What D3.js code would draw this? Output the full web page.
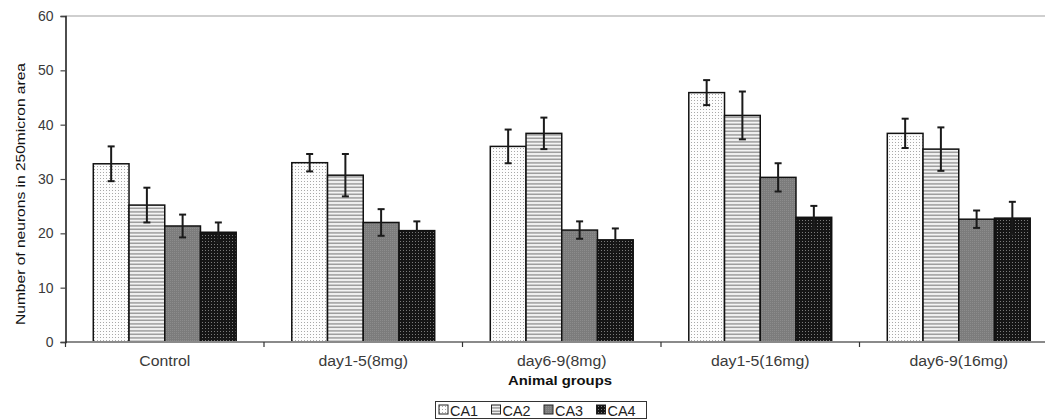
<!DOCTYPE html>
<html>
<head>
<meta charset="utf-8">
<script src="https://cdn.jsdelivr.net/npm/d3@7/dist/d3.min.js"></script>
<style>
  html, body { margin: 0; padding: 0; background: #fff; }
  svg { display: block; font-family: "Liberation Sans", Arial, sans-serif; }
</style>
</head>
<body>
<svg id="chart" width="1045" height="419"></svg>
<script>
const categories = ["Control", "day1-5(8mg)", "day6-9(8mg)", "day1-5(16mg)", "day6-9(16mg)"];
const seriesNames = ["CA1", "CA2", "CA3", "CA4"];
const ca1 = [32.8, 33.0, 36.0, 45.9, 38.4];
const ca1Err = [3.2, 1.6, 3.1, 2.3, 2.7];
const ca2 = [25.2, 30.7, 38.4, 41.7, 35.5];
const ca2Err = [3.2, 3.9, 2.9, 4.4, 4.0];
const ca3 = [21.35, 22.0, 20.6, 30.3, 22.6];
const ca3Err = [2.1, 2.45, 1.6, 2.6, 1.6];
const ca4 = [20.2, 20.5, 18.8, 22.95, 22.8];
const ca4Err = [1.8, 1.7, 2.1, 2.1, 3.0];
const yTicks = [0, 10, 20, 30, 40, 50, 60];
const yLabel = "Number of neurons in 250micron area";
const xLabel = "Animal groups";

const values = [ca1, ca2, ca3, ca4];
const errors = [ca1Err, ca2Err, ca3Err, ca4Err];

const svg = d3.select("#chart");
const defs = svg.append("defs");

// Patterns
const p1 = defs.append("pattern").attr("id", "pat0").attr("patternUnits", "userSpaceOnUse")
  .attr("width", 3).attr("height", 3);
p1.append("rect").attr("width", 3).attr("height", 3).attr("fill", "#fdfdfd");
p1.append("rect").attr("x", 1).attr("y", 1).attr("width", 1).attr("height", 1).attr("fill", "#a8a8a8");

const p2 = defs.append("pattern").attr("id", "pat1").attr("patternUnits", "userSpaceOnUse")
  .attr("width", 4).attr("height", 3.5);
p2.append("rect").attr("width", 4).attr("height", 3.5).attr("fill", "#f4f4f4");
p2.append("rect").attr("x", 0).attr("y", 1.2).attr("width", 4).attr("height", 1.3).attr("fill", "#8a8a8a");

const p3 = defs.append("pattern").attr("id", "pat2").attr("patternUnits", "userSpaceOnUse")
  .attr("width", 2).attr("height", 2);
p3.append("rect").attr("width", 2).attr("height", 2).attr("fill", "#7c7c7c");
p3.append("rect").attr("x", 0).attr("y", 0).attr("width", 1).attr("height", 1).attr("fill", "#8c8c8c");

const p4 = defs.append("pattern").attr("id", "pat3").attr("patternUnits", "userSpaceOnUse")
  .attr("width", 3).attr("height", 3);
p4.append("rect").attr("width", 3).attr("height", 3).attr("fill", "#151515");
p4.append("rect").attr("x", 1).attr("y", 1).attr("width", 1).attr("height", 1).attr("fill", "#7a7a7a");

// Scales
const plotLeft = 65.5, plotRight = 1058, plotTop = 16, plotBottom = 342;
const x0 = d3.scaleBand().domain(categories).range([plotLeft, plotRight])
  .paddingInner(0.28).paddingOuter(0.14);
const x1 = d3.scaleBand().domain(seriesNames).range([0, x0.bandwidth()]);
const y = d3.scaleLinear().domain([0, 60]).range([plotBottom, plotTop]);

// Top grid line at 60
svg.append("line")
  .attr("x1", plotLeft).attr("x2", plotRight)
  .attr("y1", y(60)).attr("y2", y(60))
  .attr("stroke", "#cfcfcf").attr("stroke-width", 2);

// Bars
const g = svg.append("g");
categories.forEach((c, ci) => {
  seriesNames.forEach((s, si) => {
    const v = values[si][ci];
    g.append("rect")
      .attr("x", x0(c) + x1(s))
      .attr("y", y(v))
      .attr("width", x1.bandwidth())
      .attr("height", y(0) - y(v))
      .attr("fill", `url(#pat${si})`)
      .attr("stroke", "#111").attr("stroke-width", 1.5);
  });
});

// Error bars
const eg = svg.append("g").attr("stroke", "#1a1a1a").attr("stroke-width", 2);
categories.forEach((c, ci) => {
  seriesNames.forEach((s, si) => {
    const v = values[si][ci], e = errors[si][ci];
    const cx = x0(c) + x1(s) + x1.bandwidth() / 2;
    eg.append("line").attr("x1", cx).attr("x2", cx).attr("y1", y(v + e)).attr("y2", y(v - e));
    eg.append("line").attr("x1", cx - 3.5).attr("x2", cx + 3.5).attr("y1", y(v + e)).attr("y2", y(v + e));
    eg.append("line").attr("x1", cx - 3.5).attr("x2", cx + 3.5).attr("y1", y(v - e)).attr("y2", y(v - e));
  });
});

// X axis line
svg.append("line")
  .attr("x1", plotLeft).attr("x2", plotRight)
  .attr("y1", plotBottom).attr("y2", plotBottom)
  .attr("stroke", "#8a8a8a").attr("stroke-width", 2);

// X ticks at category boundaries
const step = x0.step();
const boundaries = categories.map(c => x0(c) - step * x0.paddingInner() / 2);
boundaries.push(boundaries[boundaries.length - 1] + step);
svg.append("g").selectAll("line").data(boundaries).join("line")
  .attr("x1", d => d).attr("x2", d => d)
  .attr("y1", plotBottom).attr("y2", plotBottom + 5)
  .attr("stroke", "#333").attr("stroke-width", 1.2);

// X category labels (slightly wide, as in the reference)
svg.append("g").selectAll("text").data(categories).join("text")
  .attr("x", d => x0(d) + x0.bandwidth() / 2)
  .attr("y", 366)
  .attr("text-anchor", "middle")
  .attr("font-size", 14)
  .attr("fill", "#3a3a3a")
  .text(d => d)
  .each(function() {
    const L = this.getComputedTextLength();
    d3.select(this).attr("textLength", L * 1.13).attr("lengthAdjust", "spacingAndGlyphs");
  });

// Y axis
const yAxis = d3.axisLeft(y).tickValues(yTicks).tickSize(5).tickPadding(7);
const ya = svg.append("g").attr("transform", `translate(${plotLeft},0)`).call(yAxis);
ya.select(".domain").attr("stroke", "#222").attr("stroke-width", 1.6);
ya.selectAll(".tick line").attr("stroke", "#444").attr("stroke-width", 1.2);
ya.selectAll(".tick text").attr("font-size", 14).attr("fill", "#3a3a3a")
  .attr("font-family", "Liberation Sans, Arial, sans-serif");

// Axis titles
svg.append("text")
  .attr("transform", `translate(25,${(62 + 326) / 2}) rotate(-90)`)
  .attr("text-anchor", "middle")
  .attr("font-size", 13)
  .attr("fill", "#111")
  .attr("textLength", 262)
  .attr("lengthAdjust", "spacingAndGlyphs")
  .text(yLabel);

svg.append("text")
  .attr("x", 560).attr("y", 385)
  .attr("text-anchor", "middle")
  .attr("font-size", 12.5)
  .attr("font-weight", "bold")
  .attr("fill", "#111")
  .attr("textLength", 104)
  .attr("lengthAdjust", "spacingAndGlyphs")
  .text(xLabel);

// Legend
const lg = svg.append("g");
lg.append("rect").attr("x", 435.5).attr("y", 401.5).attr("width", 211).attr("height", 17)
  .attr("fill", "#fff").attr("stroke", "#333").attr("stroke-width", 1);
seriesNames.forEach((s, si) => {
  const lx = 439 + si * 52.5;
  lg.append("rect").attr("x", lx).attr("y", 405).attr("width", 9).attr("height", 9)
    .attr("fill", `url(#pat${si})`).attr("stroke", "#222").attr("stroke-width", 1);
  lg.append("text").attr("x", lx + 11).attr("y", 415.5)
    .attr("font-size", 14).attr("fill", "#222")
    .attr("textLength", 28).attr("lengthAdjust", "spacingAndGlyphs").text(s);
});
</script>
</body>
</html>
